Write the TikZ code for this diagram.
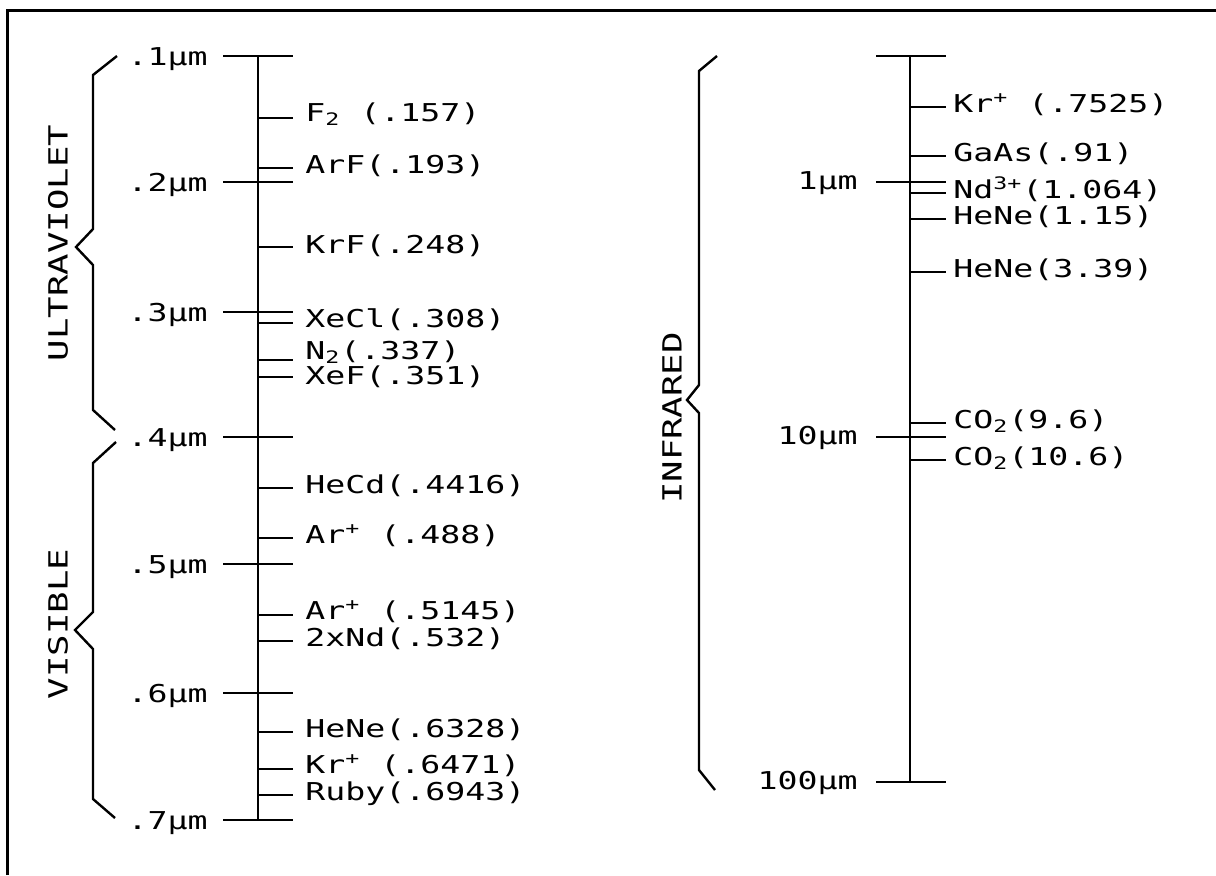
\documentclass[tikz,border=0pt]{standalone}
\usepackage{fontspec}
\usepackage{tikz}
\newfontfamily\plotfont[FakeStretch=1.35]{DejaVu Sans Mono}

\tikzset{
    axisline/.style={line width=1pt},
    bracket/.style={line width=1.2pt, line join=miter},
    lasertext/.style={font=\plotfont\fontsize{12.3}{14}\selectfont, anchor=base west, inner sep=0pt},
    scaletext/.style={font=\plotfont\fontsize{12.3}{14}\selectfont, anchor=base east, inner sep=0pt},
    bandtext/.style={font=\plotfont\fontsize{13.2}{15}\selectfont, rotate=90, inner sep=0pt}
}

\begin{document}
\begin{tikzpicture}[x=0.5pt, y=-0.5pt]
            \useasboundingbox (0,0) rectangle (1216,875);
            \draw[line width=1.5pt] (7,875) -- (7,10) -- (1216,10);

            \draw[axisline] (258,56) -- (258,820);
            \foreach \y/\lab in {56/.1,182/.2,312/.3,437/.4,564/.5,693/.6,820/.7} {
                \draw[axisline] (223,\y) -- (293,\y);
                \node[scaletext] (short\y) at (208,\y+9) {\lab µm};
            }
            \foreach \y/\d/\lab in {118/3/F\textsubscript{2} (.157), 168/5/ArF(.193), 247/6/KrF(.248),
                    323/4/XeCl(.308), 360/-1/N\textsubscript{2}(.337), 377/7/XeF(.351),
                    488/5/HeCd(.4416), 538/5/Ar\textsuperscript{+} (.488), 615/4/Ar\textsuperscript{+} (.5145),
                    641/5/2xNd(.532), 732/5/HeNe(.6328), 769/4/Kr\textsuperscript{+} (.6471), 795/5/Ruby(.6943)} {
                \draw[axisline] (258,\y) -- (293,\y);
                \node[lasertext] (laser\y) at (305,\y+\d) {\lab};
            }

            \draw[axisline] (910,56) -- (910,782);
            \draw[axisline] (876,56) -- (946,56);
            \foreach \y/\lab in {182/1, 437/10, 782/100} {
                \draw[axisline] (876,\y) -- (946,\y);
                \node[scaletext] (long\y) at (858,\y+7) {\lab µm};
            }
            \foreach \y/\lab in {107/Kr\textsuperscript{+} (.7525), 156/GaAs(.91), 193/Nd\textsuperscript{3+}(1.064),
                    219/HeNe(1.15), 272/HeNe(3.39), 423/CO\textsubscript{2}(9.6), 460/CO\textsubscript{2}(10.6)} {
                \draw[axisline] (910,\y) -- (946,\y);
                \node[lasertext] (ir\y) at (953,\y+5) {\lab};
            }

            \draw[bracket] (117,56) -- (93,75) -- (93,229) -- (76,247) -- (93,265) -- (93,410) -- (115,430);
            \draw[bracket] (116,442) -- (93,463) -- (93,612) -- (75,630) -- (93,649) -- (93,799) -- (115,818);
            \draw[bracket] (717,56) -- (699,71) -- (699,385) -- (687,400) -- (699,413) -- (699,770) -- (715,790);

            \node[bandtext] (uv) at (58,243) {ULTRAVIOLET};
            \node[bandtext] (vis) at (58,624) {VISIBLE};
            \node[bandtext] (ir) at (672,418) {INFRARED};
        \end{tikzpicture}
\end{document}
